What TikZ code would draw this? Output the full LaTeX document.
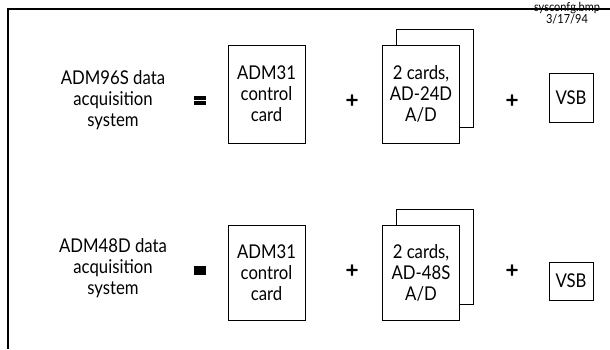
\documentclass[tikz,border=0pt]{standalone}
\usepackage{fontspec}
\setmainfont{Lato}[FakeStretch=0.88]
\newfontfamily\opfont{DejaVu Sans}[FakeBold=2]
\begin{document}
\begin{tikzpicture}[x=1pt,y=-1pt,
  lbl/.style={align=center, font=\fontsize{19}{21}\selectfont, inner sep=0pt},
  card/.style={draw, line width=0.9pt, fill=white, align=center, inner sep=0pt, font=\fontsize{19}{21}\selectfont},
  op/.style={font=\opfont\bfseries\fontsize{17}{17}\selectfont, inner sep=0pt},
  frame/.style={line width=1.8pt}
]
\useasboundingbox (0,0) rectangle (610,349);
% frame
\coordinate (ftr) at (610,9);
\coordinate (ftl) at (8,9);
\coordinate (fbl) at (8,349);
\draw[frame] (ftr) -- (ftl) -- (fbl);
% file stamp
\node[font=\fontsize{12.5}{11}\selectfont, align=center, inner sep=0pt, anchor=north] (stamp) at (567,2) {sysconfg.bmp\\3/17/94};
% row 1
\node[lbl] (sys1) at (113,100) {ADM96S data\\acquisition\\system};
\node[draw, fill=black, minimum width=11pt, minimum height=8pt, inner sep=0pt] (eq1) at (200,100) {};
\draw[white, line width=0.8pt] (eq1.west) -- (eq1.east);
\node[card, minimum width=77pt, minimum height=98pt] (ctl1) at (266.5,94) {ADM31\\control\\card};
\node[op] (p11) at (352,100) {+};
\node[card, minimum width=77pt, minimum height=98pt] (back1) at (434.5,78) {};
\node[card, minimum width=77pt, minimum height=98pt] (ad1) at (421,94) {2 cards,\\AD-24D\\A/D};
\node[op] (p12) at (512,100) {+};
\node[card, minimum width=44pt, minimum height=49pt] (vsb1) at (571,97.5) {VSB};
% row 2
\node[lbl] (sys2) at (113,268) {ADM48D data\\acquisition\\system};
\node[draw, fill=black, minimum width=11pt, minimum height=8pt, inner sep=0pt] (eq2) at (200,270) {};
\node[card, minimum width=77pt, minimum height=95pt] (ctl2) at (266.5,272.5) {ADM31\\control\\card};
\node[op] (p21) at (352,270) {+};
\node[card, minimum width=77pt, minimum height=95pt] (back2) at (434.5,257) {};
\node[card, minimum width=77pt, minimum height=95pt] (ad2) at (421,272.5) {2 cards,\\AD-48S\\A/D};
\node[op] (p22) at (512,270) {+};
\node[card, minimum width=44pt, minimum height=38pt] (vsb2) at (571,281) {VSB};
\end{tikzpicture}
\end{document}
